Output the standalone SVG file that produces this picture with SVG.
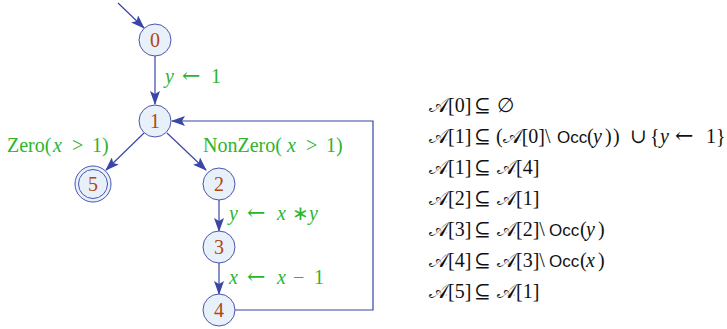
<svg xmlns="http://www.w3.org/2000/svg" width="727" height="329" viewBox="0 0 727 329">
<style>
.node circle{fill:#e8f1f9;stroke:#4a55b0;stroke-width:1}
.node text{font-family:"Liberation Serif",serif;font-size:20px;fill:#b0470f;text-anchor:middle}
.edge{stroke:#3a45a8;stroke-width:1.2;fill:none}
.lbl{font-family:"Liberation Serif",serif;font-size:20px;fill:#2db52d}
.eq{font-family:"Liberation Serif","DejaVu Serif",serif;font-size:20px;fill:#111}
.i{font-style:italic}
.s{font-family:"Liberation Sans",sans-serif;font-size:17px}
.a{font-family:"DejaVu Serif",serif;font-size:22px}
</style>
<defs>
<marker id="ah" viewBox="0 0 14 10" refX="13" refY="5" markerWidth="14" markerHeight="10" markerUnits="userSpaceOnUse" orient="auto">
<path d="M0,0 L14,5 L0,10 L3,5 Z" fill="#3a45a8"/>
</marker>
</defs>
<g id="connectors">
<line class="edge" x1="118" y1="3" x2="144" y2="28" marker-end="url(#ah)"/>
<line class="edge" x1="155" y1="56" x2="155" y2="104" marker-end="url(#ah)"/>
<line class="edge" x1="144" y1="133" x2="106" y2="170" marker-end="url(#ah)"/>
<line class="edge" x1="167" y1="133" x2="206" y2="170" marker-end="url(#ah)"/>
<line class="edge" x1="219" y1="199" x2="219" y2="231" marker-end="url(#ah)"/>
<line class="edge" x1="219" y1="263" x2="219" y2="294" marker-end="url(#ah)"/>
<polyline class="edge" points="235,310 373,310 373,121 172,121" marker-end="url(#ah)"/>
</g>
<g id="n0" class="node"><circle cx="155" cy="40" r="16"/><text x="155" y="47">0</text></g>
<g id="n1" class="node"><circle cx="155" cy="121" r="16"/><text x="155" y="128">1</text></g>
<g id="n5" class="node"><circle cx="93" cy="184" r="18"/><circle cx="93" cy="184" r="14.5"/><text x="93" y="191">5</text></g>
<g id="n2" class="node"><circle cx="219" cy="184" r="16"/><text x="219" y="191">2</text></g>
<g id="n3" class="node"><circle cx="219" cy="247" r="16"/><text x="219" y="254">3</text></g>
<g id="n4" class="node"><circle cx="219" cy="310" r="16"/><text x="219" y="317">4</text></g>
<g id="labels">
<text class="lbl" y="83"><tspan x="165" class="i">y</tspan><tspan x="182" class="a">←</tspan><tspan x="211">1</tspan></text>
<text class="lbl" y="152"><tspan x="7">Zero(</tspan><tspan x="53" class="i">x</tspan><tspan x="72">&gt;</tspan><tspan x="92">1)</tspan></text>
<text class="lbl" y="152"><tspan x="203">NonZero(</tspan><tspan x="287" class="i">x</tspan><tspan x="306">&gt;</tspan><tspan x="326">1)</tspan></text>
<text class="lbl" y="220"><tspan x="229" class="i">y</tspan><tspan x="247" class="a">←</tspan><tspan x="277" class="i">x</tspan><tspan x="292">∗</tspan><tspan x="309" class="i">y</tspan></text>
<text class="lbl" y="284"><tspan x="229" class="i">x</tspan><tspan x="247" class="a">←</tspan><tspan x="277" class="i">x</tspan><tspan x="293">−</tspan><tspan x="314">1</tspan></text>
</g>
<g id="equations">
<text class="eq" y="112"><tspan x="429">𝒜[0]</tspan><tspan x="474">⊆</tspan><tspan x="497">∅</tspan></text>
<text class="eq" y="143"><tspan x="429">𝒜[1]</tspan><tspan x="474">⊆</tspan><tspan x="496">(𝒜[0]\</tspan><tspan x="557" class="s">Occ</tspan><tspan x="587">(</tspan><tspan x="593" class="i">y</tspan><tspan x="605">)</tspan><tspan x="613">)</tspan><tspan x="630">∪</tspan><tspan x="650">{</tspan><tspan x="660" class="i">y</tspan><tspan x="675" class="a">←</tspan><tspan x="706">1}</tspan></text>
<text class="eq" y="174"><tspan x="429">𝒜[1]</tspan><tspan x="474">⊆</tspan><tspan x="497">𝒜[4]</tspan></text>
<text class="eq" y="205"><tspan x="429">𝒜[2]</tspan><tspan x="474">⊆</tspan><tspan x="497">𝒜[1]</tspan></text>
<text class="eq" y="236"><tspan x="429">𝒜[3]</tspan><tspan x="474">⊆</tspan><tspan x="497">𝒜[2]\</tspan><tspan x="549" class="s">Occ</tspan><tspan x="580">(</tspan><tspan x="586" class="i">y</tspan><tspan x="598">)</tspan></text>
<text class="eq" y="267"><tspan x="429">𝒜[4]</tspan><tspan x="474">⊆</tspan><tspan x="497">𝒜[3]\</tspan><tspan x="549" class="s">Occ</tspan><tspan x="580">(</tspan><tspan x="586" class="i">x</tspan><tspan x="598">)</tspan></text>
<text class="eq" y="298"><tspan x="429">𝒜[5]</tspan><tspan x="474">⊆</tspan><tspan x="497">𝒜[1]</tspan></text>
</g>
</svg>
